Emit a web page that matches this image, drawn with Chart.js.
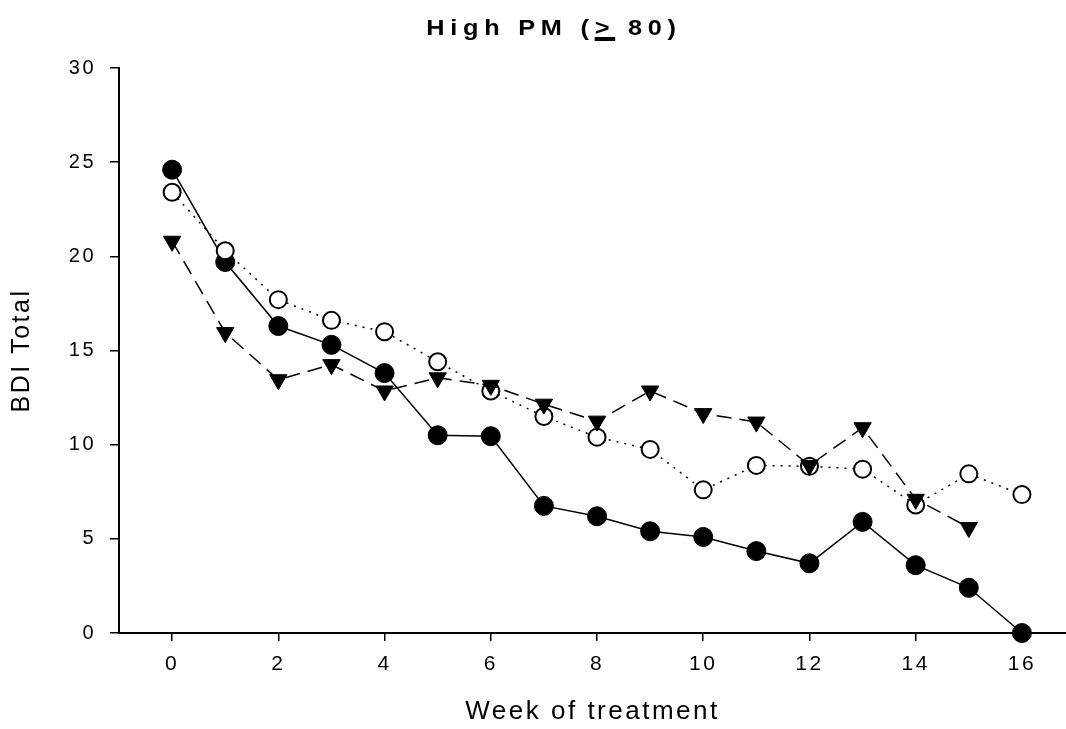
<!DOCTYPE html>
<html>
<head>
<meta charset="utf-8">
<script src="https://cdn.jsdelivr.net/npm/chart.js@4.4.1/dist/chart.umd.min.js"></script>
<style>
  html, body { margin: 0; padding: 0; background: #fff; }
  #wrap { position: relative; width: 1066px; height: 729px; overflow: hidden; }
  #title {
    position: absolute; top: 17px; left: 554px; transform: translateX(-50%) scaleX(1.15);
    font-family: "Liberation Sans", Arial, sans-serif; font-weight: bold;
    font-size: 22px; line-height: 22px; letter-spacing: 5px; white-space: nowrap; color: #000;
  }
  #title u { text-decoration-thickness: 3.5px; text-underline-offset: 2px; }
  canvas { position: absolute; left: 0; top: 0; }
</style>
</head>
<body>
<div id="wrap">
  <canvas id="c" width="1066" height="729"></canvas>
  <div id="title">High PM (<u>&gt;</u> 80)</div>
</div>
<script>
// ---- data ----
const weeks = [0, 1, 2, 3, 4, 5, 6, 7, 8, 9, 10, 11, 12, 13, 14, 15, 16];
const weeksTriangle = [0, 1, 2, 3, 4, 5, 6, 7, 8, 9, 10, 11, 12, 13, 14, 15];
const filledCircle = [24.6, 19.7, 16.3, 15.3, 13.8, 10.5, 10.45, 6.75, 6.2, 5.4, 5.1, 4.35, 3.7, 5.9, 3.6, 2.4, 0];
const openCircle = [23.4, 20.3, 17.7, 16.6, 16.0, 14.4, 12.85, 11.5, 10.4, 9.75, 7.6, 8.9, 8.85, 8.7, 6.8, 8.45, 7.35];
const filledTriangle = [20.8, 15.95, 13.45, 14.25, 12.85, 13.55, 13.15, 12.15, 11.25, 12.85, 11.65, 11.2, 8.9, 10.9, 7.1, 5.6];
const xTickValues = [0, 2, 4, 6, 8, 10, 12, 14, 16];
const yTickValues = [0, 5, 10, 15, 20, 25, 30];
const xAxisTitle = 'Week of treatment';
const yAxisTitle = 'BDI Total';

const toPoints = (xs, ys) => xs.map((x, i) => ({ x: x, y: ys[i] }));

const FONT = '"Liberation Sans", Arial, sans-serif';

const spacingPlugin = {
  id: 'spacing',
  beforeDraw(chart) { chart.ctx.letterSpacing = '2.5px'; }
};

new Chart(document.getElementById('c'), {
  type: 'line',
  data: {
    datasets: [
      {
        label: 'triangle',
        data: toPoints(weeksTriangle, filledTriangle),
        borderColor: '#000', borderWidth: 1.5, borderDash: [15, 8],
        pointStyle: 'triangle', rotation: 180, pointRadius: 10,
        pointBackgroundColor: '#000', pointBorderColor: '#000', pointBorderWidth: 1,
        tension: 0, clip: false
      },
      {
        label: 'open',
        data: toPoints(weeks, openCircle),
        borderColor: '#000', borderWidth: 1.5, borderDash: [2, 6],
        pointStyle: 'circle', pointRadius: 8.5,
        pointBackgroundColor: '#fff', pointBorderColor: '#000', pointBorderWidth: 2,
        tension: 0, clip: false
      },
      {
        label: 'filled',
        data: toPoints(weeks, filledCircle),
        borderColor: '#000', borderWidth: 1.5,
        pointStyle: 'circle', pointRadius: 9.5,
        pointBackgroundColor: '#000', pointBorderColor: '#000', pointBorderWidth: 1,
        tension: 0, clip: false
      }
    ]
  },
  options: {
    responsive: false,
    animation: false,
    events: [],
    layout: { autoPadding: false, padding: { top: 68, right: 0, bottom: 0, left: 0 } },
    plugins: { legend: { display: false }, tooltip: { enabled: false }, title: { display: false } },
    scales: {
      x: {
        type: 'linear', min: -1, max: 16.83,
        afterBuildTicks: (s) => { s.ticks = xTickValues.map(v => ({ value: v })); },
        afterFit: (s) => { s.height = 96; },
        grid: { drawOnChartArea: false, drawTicks: true, tickLength: 8, color: '#000', lineWidth: 1.5 },
        border: { display: true, color: '#000', width: 2 },
        ticks: { color: '#000', padding: 11, font: { family: FONT, size: 21 }, maxRotation: 0 },
        title: { display: true, text: xAxisTitle, color: '#000', font: { family: FONT, size: 26 }, padding: { top: 0, bottom: 2 } }
      },
      y: {
        type: 'linear', min: 0, max: 30,
        afterBuildTicks: (s) => { s.ticks = yTickValues.map(v => ({ value: v })); },
        afterFit: (s) => { s.width = 119; },
        grid: { drawOnChartArea: false, drawTicks: true, tickLength: 9, color: '#000', lineWidth: 1.5 },
        border: { display: true, color: '#000', width: 2 },
        ticks: { color: '#000', padding: 14, font: { family: FONT, size: 20 } },
        title: { display: true, text: yAxisTitle, color: '#000', font: { family: FONT, size: 25 }, padding: { top: 7.5, bottom: 0 } }
      }
    }
  },
  plugins: [spacingPlugin]
});
</script>
</body>
</html>
